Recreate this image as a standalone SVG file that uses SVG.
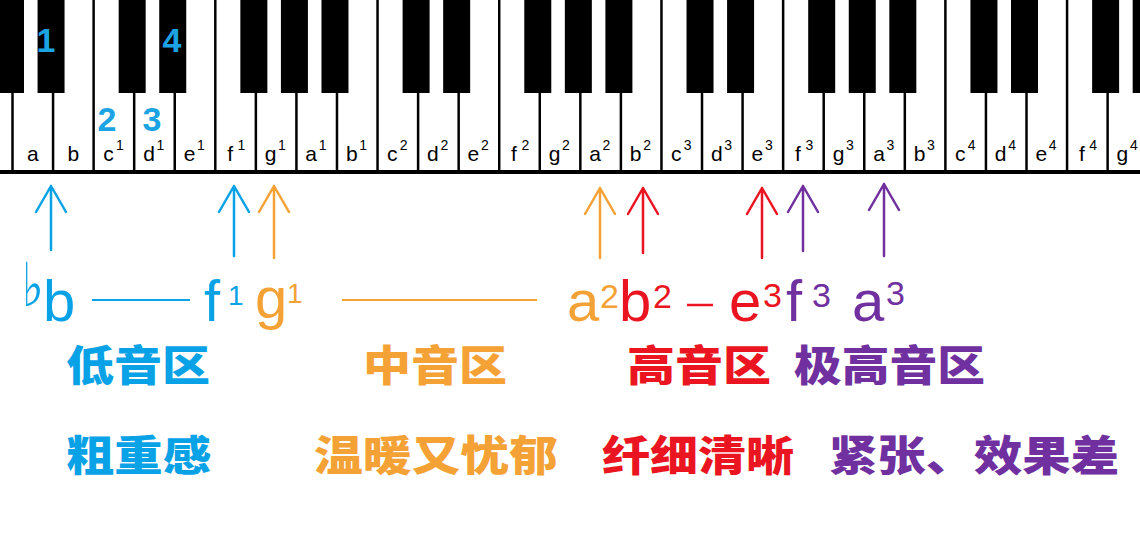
<svg xmlns="http://www.w3.org/2000/svg" width="1140" height="533" viewBox="0 0 1140 533">
<style>
.kline{stroke:#000;stroke-width:2.5}
.bk{fill:#000}
.kl{font-family:"Liberation Sans",Arial,sans-serif;font-size:21px;fill:#000}
.ks{font-family:"Liberation Sans",Arial,sans-serif;font-size:14px;fill:#000}
.fg{font-family:"Liberation Sans",Arial,sans-serif;font-weight:bold;font-size:34px;fill:#1BA3E3}
.note{font-family:"Liberation Sans",Arial,sans-serif;font-size:58px}
.sup{font-family:"Liberation Sans",Arial,sans-serif;font-size:34px}
.sup1{font-family:"Liberation Sans",Arial,sans-serif;font-size:28px}
.cn{font-family:"Noto Sans CJK SC",sans-serif;font-weight:900;font-size:42px}
.cy{fill:#0AA2E6}.or{fill:#F4A236}.rd{fill:#EA1520}.pu{fill:#7030A0}
.arr{fill:none;stroke-width:2.5;stroke-linecap:round;stroke-linejoin:round}
</style>
<rect width="1140" height="533" fill="#fff"/>
<g id="keyboard">
<g id="white-key-lines">
<line class="kline" x1="12.5" y1="0" x2="12.5" y2="172"/>
<line class="kline" x1="53.06" y1="0" x2="53.06" y2="172"/>
<line class="kline" x1="93.62" y1="0" x2="93.62" y2="172"/>
<line class="kline" x1="134.18" y1="0" x2="134.18" y2="172"/>
<line class="kline" x1="174.74" y1="0" x2="174.74" y2="172"/>
<line class="kline" x1="215.3" y1="0" x2="215.3" y2="172"/>
<line class="kline" x1="255.86" y1="0" x2="255.86" y2="172"/>
<line class="kline" x1="296.42" y1="0" x2="296.42" y2="172"/>
<line class="kline" x1="336.98" y1="0" x2="336.98" y2="172"/>
<line class="kline" x1="377.54" y1="0" x2="377.54" y2="172"/>
<line class="kline" x1="418.1" y1="0" x2="418.1" y2="172"/>
<line class="kline" x1="458.66" y1="0" x2="458.66" y2="172"/>
<line class="kline" x1="499.22" y1="0" x2="499.22" y2="172"/>
<line class="kline" x1="539.78" y1="0" x2="539.78" y2="172"/>
<line class="kline" x1="580.34" y1="0" x2="580.34" y2="172"/>
<line class="kline" x1="620.9" y1="0" x2="620.9" y2="172"/>
<line class="kline" x1="661.46" y1="0" x2="661.46" y2="172"/>
<line class="kline" x1="702.02" y1="0" x2="702.02" y2="172"/>
<line class="kline" x1="742.58" y1="0" x2="742.58" y2="172"/>
<line class="kline" x1="783.14" y1="0" x2="783.14" y2="172"/>
<line class="kline" x1="823.7" y1="0" x2="823.7" y2="172"/>
<line class="kline" x1="864.26" y1="0" x2="864.26" y2="172"/>
<line class="kline" x1="904.82" y1="0" x2="904.82" y2="172"/>
<line class="kline" x1="945.38" y1="0" x2="945.38" y2="172"/>
<line class="kline" x1="985.94" y1="0" x2="985.94" y2="172"/>
<line class="kline" x1="1026.5" y1="0" x2="1026.5" y2="172"/>
<line class="kline" x1="1067.06" y1="0" x2="1067.06" y2="172"/>
<line class="kline" x1="1107.62" y1="0" x2="1107.62" y2="172"/>
</g>
<rect x="0" y="170" width="1140" height="4" fill="#000"/>
<g id="black-keys">
<rect class="bk" x="-3" y="0" width="27" height="93"/>
<rect class="bk" x="37.56" y="0" width="27" height="93"/>
<rect class="bk" x="118.68" y="0" width="27" height="93"/>
<rect class="bk" x="159.24" y="0" width="27" height="93"/>
<rect class="bk" x="240.36" y="0" width="27" height="93"/>
<rect class="bk" x="280.92" y="0" width="27" height="93"/>
<rect class="bk" x="321.48" y="0" width="27" height="93"/>
<rect class="bk" x="402.6" y="0" width="27" height="93"/>
<rect class="bk" x="443.16" y="0" width="27" height="93"/>
<rect class="bk" x="524.28" y="0" width="27" height="93"/>
<rect class="bk" x="564.84" y="0" width="27" height="93"/>
<rect class="bk" x="605.4" y="0" width="27" height="93"/>
<rect class="bk" x="686.52" y="0" width="27" height="93"/>
<rect class="bk" x="727.08" y="0" width="27" height="93"/>
<rect class="bk" x="808.2" y="0" width="27" height="93"/>
<rect class="bk" x="848.76" y="0" width="27" height="93"/>
<rect class="bk" x="889.32" y="0" width="27" height="93"/>
<rect class="bk" x="970.44" y="0" width="27" height="93"/>
<rect class="bk" x="1011" y="0" width="27" height="93"/>
<rect class="bk" x="1092.12" y="0" width="27" height="93"/>
<rect class="bk" x="1132.68" y="0" width="27" height="93"/>
</g>
<g id="key-labels">
<text class="kl" x="32.8" y="161" text-anchor="middle">a</text>
<text class="kl" x="73.3" y="161" text-anchor="middle">b</text>
<text class="kl" x="108.4" y="161" text-anchor="middle">c</text><text class="ks" x="116" y="150">1</text>
<text class="kl" x="149" y="161" text-anchor="middle">d</text><text class="ks" x="156.5" y="150">1</text>
<text class="kl" x="189.5" y="161" text-anchor="middle">e</text><text class="ks" x="197" y="150">1</text>
<text class="kl" x="230.1" y="161" text-anchor="middle">f</text><text class="ks" x="237.6" y="150">1</text>
<text class="kl" x="270.6" y="161" text-anchor="middle">g</text><text class="ks" x="278.1" y="150">1</text>
<text class="kl" x="311.2" y="161" text-anchor="middle">a</text><text class="ks" x="318.7" y="150">1</text>
<text class="kl" x="351.8" y="161" text-anchor="middle">b</text><text class="ks" x="359.3" y="150">1</text>
<text class="kl" x="392.3" y="161" text-anchor="middle">c</text><text class="ks" x="399.8" y="150">2</text>
<text class="kl" x="432.9" y="161" text-anchor="middle">d</text><text class="ks" x="440.4" y="150">2</text>
<text class="kl" x="473.4" y="161" text-anchor="middle">e</text><text class="ks" x="480.9" y="150">2</text>
<text class="kl" x="514" y="161" text-anchor="middle">f</text><text class="ks" x="521.5" y="150">2</text>
<text class="kl" x="554.6" y="161" text-anchor="middle">g</text><text class="ks" x="562.1" y="150">2</text>
<text class="kl" x="595.1" y="161" text-anchor="middle">a</text><text class="ks" x="602.6" y="150">2</text>
<text class="kl" x="635.7" y="161" text-anchor="middle">b</text><text class="ks" x="643.2" y="150">2</text>
<text class="kl" x="676.2" y="161" text-anchor="middle">c</text><text class="ks" x="683.7" y="150">3</text>
<text class="kl" x="716.8" y="161" text-anchor="middle">d</text><text class="ks" x="724.3" y="150">3</text>
<text class="kl" x="757.4" y="161" text-anchor="middle">e</text><text class="ks" x="764.9" y="150">3</text>
<text class="kl" x="797.9" y="161" text-anchor="middle">f</text><text class="ks" x="805.4" y="150">3</text>
<text class="kl" x="838.5" y="161" text-anchor="middle">g</text><text class="ks" x="846" y="150">3</text>
<text class="kl" x="879" y="161" text-anchor="middle">a</text><text class="ks" x="886.5" y="150">3</text>
<text class="kl" x="919.6" y="161" text-anchor="middle">b</text><text class="ks" x="927.1" y="150">3</text>
<text class="kl" x="960.2" y="161" text-anchor="middle">c</text><text class="ks" x="967.7" y="150">4</text>
<text class="kl" x="1000.7" y="161" text-anchor="middle">d</text><text class="ks" x="1008.2" y="150">4</text>
<text class="kl" x="1041.3" y="161" text-anchor="middle">e</text><text class="ks" x="1048.8" y="150">4</text>
<text class="kl" x="1081.8" y="161" text-anchor="middle">f</text><text class="ks" x="1089.3" y="150">4</text>
<text class="kl" x="1122.4" y="161" text-anchor="middle">g</text><text class="ks" x="1129.9" y="150">4</text>
</g>
<g id="fingering">
<text class="fg" x="46" y="52" text-anchor="middle">1</text>
<text class="fg" x="172" y="52" text-anchor="middle">4</text>
<text class="fg" x="107" y="131" text-anchor="middle">2</text>
<text class="fg" x="152" y="131" text-anchor="middle">3</text>
</g>
</g>
<g id="connectors">
<path class="arr" stroke="#0AA2E6" d="M51 250V186M36 212L51 186L66 212"/>
<path class="arr" stroke="#0AA2E6" d="M234 256V186M219 212L234 186L249 212"/>
<path class="arr" stroke="#F4A236" d="M274 258V186M259 212L274 186L289 212"/>
<path class="arr" stroke="#F4A236" d="M600 258V188M585 214L600 188L615 214"/>
<path class="arr" stroke="#EA1520" d="M643 253V188M628 214L643 188L658 214"/>
<path class="arr" stroke="#EA1520" d="M762 258V188M747 214L762 188L777 214"/>
<path class="arr" stroke="#7030A0" d="M803 251V186M788 212L803 186L818 212"/>
<path class="arr" stroke="#7030A0" d="M884 256V184M869 210L884 184L899 210"/>
<line x1="92" y1="300" x2="190" y2="300" stroke="#0AA2E6" stroke-width="2"/>
<line x1="342" y1="300" x2="537" y2="300" stroke="#F4A236" stroke-width="2"/>
<line x1="687" y1="305" x2="713" y2="305" stroke="#EA1520" stroke-width="2.5"/>
</g>
<g id="notes">
<text class="cy" transform="translate(22,306) scale(1,1.32)" x="0" y="0" font-family="DejaVu Sans,sans-serif" font-size="46">♭</text>
<text class="note cy" x="43" y="321">b</text>
<text class="note cy" x="204" y="321">f</text>
<text class="sup1 cy" x="228" y="305">1</text>
<text class="note or" x="255" y="318">g</text>
<text class="sup1 or" x="287" y="303">1</text>
<text class="note or" x="567" y="321">a</text>
<text class="sup or" x="600" y="308">2</text>
<text class="note rd" x="619" y="321">b</text>
<text class="sup rd" x="653" y="308">2</text>
<text class="note rd" x="729" y="321">e</text>
<text class="sup rd" x="763" y="307">3</text>
<text class="note pu" x="786" y="321">f</text>
<text class="sup pu" x="812" y="307">3</text>
<text class="note pu" x="852" y="321">a</text>
<text class="sup pu" x="886" y="305">3</text>
</g>
<g id="registers">
<text class="cn cy" x="66" y="381" textLength="144" lengthAdjust="spacingAndGlyphs">低音区</text>
<text class="cn or" x="363" y="381" textLength="144" lengthAdjust="spacingAndGlyphs">中音区</text>
<text class="cn rd" x="627" y="381" textLength="144" lengthAdjust="spacingAndGlyphs">高音区</text>
<text class="cn pu" x="794" y="381" textLength="191" lengthAdjust="spacingAndGlyphs">极高音区</text>
</g>
<g id="qualities">
<text class="cn cy" x="66" y="471" textLength="145" lengthAdjust="spacingAndGlyphs">粗重感</text>
<text class="cn or" x="314" y="471" textLength="244" lengthAdjust="spacingAndGlyphs">温暖又忧郁</text>
<text class="cn rd" x="602" y="471" textLength="192" lengthAdjust="spacingAndGlyphs">纤细清晰</text>
<text class="cn pu" x="829" y="471" textLength="290" lengthAdjust="spacingAndGlyphs">紧张、效果差</text>
</g>
</svg>
